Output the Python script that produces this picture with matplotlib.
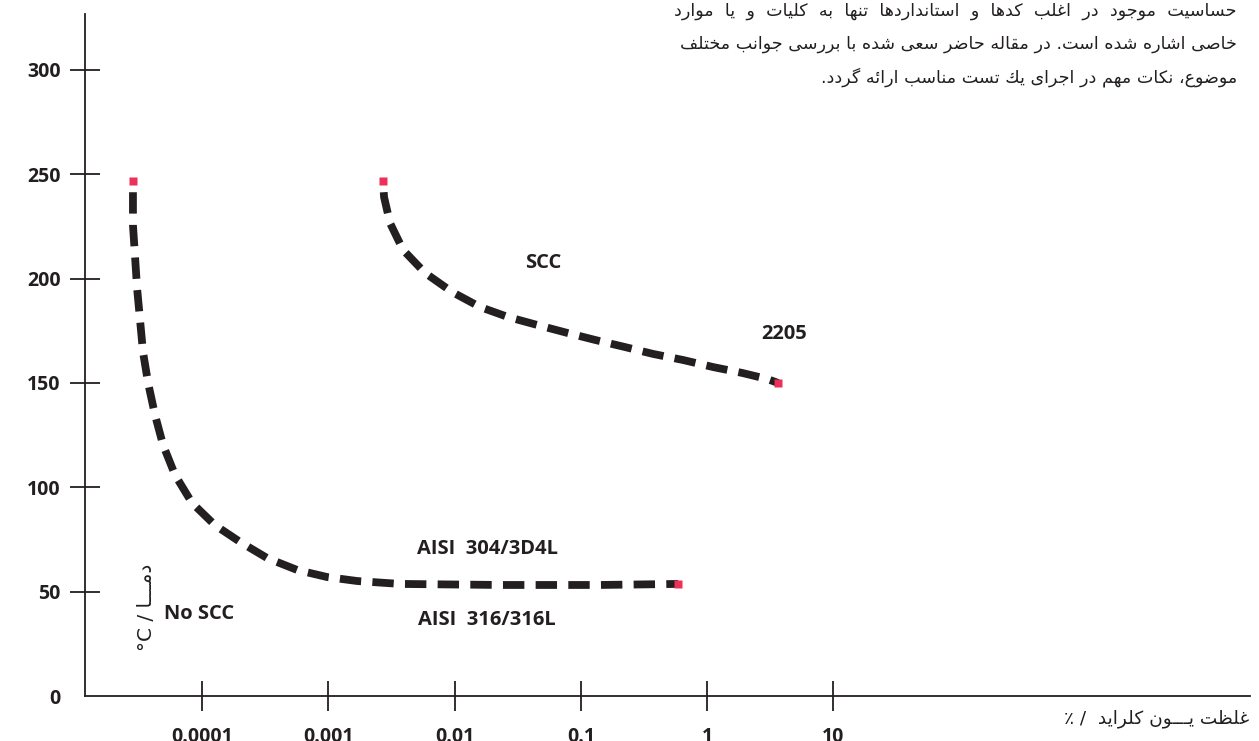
import matplotlib
matplotlib.use("Agg")
import matplotlib.pyplot as plt
from matplotlib.ticker import NullLocator

# chloride (%) vs temperature (C) limits for SCC
aisi_chloride = [2.83e-5, 2.83e-5, 2.83e-5, 2.94e-5, 3.05e-5, 3.22e-5, 3.40e-5, 3.73e-5,
                 4.23e-5, 4.90e-5, 6.10e-5, 8.32e-5, 1.26e-4, 2.00e-4, 3.27e-4, 5.65e-4,
                 9.77e-4, 1.69e-3, 3.70e-3, 0.0229, 0.142, 0.590]
aisi_temp = [246.8, 238.7, 225.7, 210.4, 195.5, 180.2, 164.8, 150.0,
             134.7, 120.3, 105.9, 92.5, 81.9, 73.8, 66.1, 60.4,
             57.0, 55.1, 53.7, 53.2, 53.2, 53.7]

duplex_chloride = [2.71e-3, 2.76e-3, 3.08e-3, 3.91e-3, 5.84e-3, 9.55e-3, 0.0159, 0.0265,
                   0.0451, 0.0779, 0.130, 0.224, 0.374, 0.646, 1.12, 1.90, 2.99, 3.66]
duplex_temp = [246.8, 239.1, 226.6, 213.7, 202.7, 193.6, 186.4, 181.6,
               177.8, 174.0, 170.6, 167.2, 163.9, 161.0, 157.6, 154.8, 151.9, 150.0]

x_ticks = [1e-4, 1e-3, 1e-2, 0.1, 1, 10]
x_tick_labels = ['0.0001', '0.001', '0.01', '0.1', '1', '10']
y_ticks = [0, 50, 100, 150, 200, 250, 300]

paragraph = [
    "حساسیت موجود در اغلب کدها و استانداردها تنها به کلیات و یا موارد",
    "خاصی اشاره شده است. در مقاله حاضر سعی شده با بررسی جوانب مختلف",
    "موضوع، نکات مهم در اجرای يك تست مناسب ارائه گردد.",
]
x_title = "غلظت يـــون كلرايد"
y_title = "دمـــا"

INK = '#231f20'
RED = '#ec3058'

# matplotlib has no arabic shaping, so pick the presentation forms by hand
# (isolated, final, initial, medial)
FORMS = {
    'ا': ('\uFE8D', '\uFE8E', None, None),
    'د': ('\uFEA9', '\uFEAA', None, None),
    'ر': ('\uFEAD', '\uFEAE', None, None),
    'و': ('\uFEED', '\uFEEE', None, None),
    'ب': ('\uFE8F', '\uFE90', '\uFE91', '\uFE92'),
    'ت': ('\uFE95', '\uFE96', '\uFE97', '\uFE98'),
    'ج': ('\uFE9D', '\uFE9E', '\uFE9F', '\uFEA0'),
    'ح': ('\uFEA1', '\uFEA2', '\uFEA3', '\uFEA4'),
    'خ': ('\uFEA5', '\uFEA6', '\uFEA7', '\uFEA8'),
    'س': ('\uFEB1', '\uFEB2', '\uFEB3', '\uFEB4'),
    'ش': ('\uFEB5', '\uFEB6', '\uFEB7', '\uFEB8'),
    'ص': ('\uFEB9', '\uFEBA', '\uFEBB', '\uFEBC'),
    'ض': ('\uFEBD', '\uFEBE', '\uFEBF', '\uFEC0'),
    'ظ': ('\uFEC5', '\uFEC6', '\uFEC7', '\uFEC8'),
    'ع': ('\uFEC9', '\uFECA', '\uFECB', '\uFECC'),
    'غ': ('\uFECD', '\uFECE', '\uFECF', '\uFED0'),
    'ف': ('\uFED1', '\uFED2', '\uFED3', '\uFED4'),
    'ق': ('\uFED5', '\uFED6', '\uFED7', '\uFED8'),
    'ك': ('\uFED9', '\uFEDA', '\uFEDB', '\uFEDC'),
    'ک': ('\uFB8E', '\uFB8F', '\uFB90', '\uFB91'),
    'گ': ('\uFB92', '\uFB93', '\uFB94', '\uFB95'),
    'ل': ('\uFEDD', '\uFEDE', '\uFEDF', '\uFEE0'),
    'م': ('\uFEE1', '\uFEE2', '\uFEE3', '\uFEE4'),
    'ن': ('\uFEE5', '\uFEE6', '\uFEE7', '\uFEE8'),
    'ه': ('\uFEE9', '\uFEEA', '\uFEEB', '\uFEEC'),
    'ي': ('\uFEF1', '\uFEF2', '\uFEF3', '\uFEF4'),
    'ی': ('\uFBFC', '\uFBFD', '\uFBFE', '\uFBFF'),
    'ئ': ('\uFE89', '\uFE8A', '\uFE8B', '\uFE8C'),
}
TATWEEL = '\u0640'


def joins_left(c):
    return c == TATWEEL or (c in FORMS and FORMS[c][2] is not None)


def rtl(text):
    out = []
    for i, c in enumerate(text):
        if c not in FORMS:
            out.append(c)
            continue
        prev = text[i - 1] if i > 0 else ''
        nxt = text[i + 1] if i < len(text) - 1 else ''
        p = joins_left(prev)
        q = FORMS[c][2] is not None and (nxt in FORMS or nxt == TATWEEL)
        iso, fin, ini, med = FORMS[c]
        out.append(med if p and q else fin if p else ini if q else iso)
    return ''.join(out)[::-1]


W, H = 1259, 741
fig = plt.figure(figsize=(W / 100, H / 100), dpi=100)
ax = fig.add_axes([85 / W, 45 / H, 1165 / W, 682 / H])

dash = (2.75, (2.75, 1.45))   # start on a gap so the red end cap stands apart
for xs, ys in [(aisi_chloride, aisi_temp), (duplex_chloride, duplex_temp)]:
    ax.plot(xs, ys, color=INK, lw=5.6, ls=dash, dash_capstyle='butt', zorder=3)
    ax.plot([xs[0], xs[-1]], [ys[0], ys[-1]], ls='none', marker='s', ms=5.3,
            mfc=RED, mec='none', zorder=4)

ax.set_xscale('log')
ax.set_xlim(1.18e-5, 2.0e4)
ax.set_ylim(0, 326.8)
ax.xaxis.set_minor_locator(NullLocator())
ax.set_xticks(x_ticks)
ax.set_xticklabels(x_tick_labels)
ax.set_yticks(y_ticks)
ax.yaxis.get_major_ticks()[0].tick1line.set_visible(False)

for s in ['top', 'right']:
    ax.spines[s].set_visible(False)
for s in ['left', 'bottom']:
    ax.spines[s].set_linewidth(1.3)
    ax.spines[s].set_color(INK)

ax.tick_params(direction='inout', length=22, width=1.3, color=INK, labelcolor=INK)
ax.tick_params(axis='y', pad=6.5)
ax.tick_params(axis='x', pad=11)
for lab in ax.get_xticklabels() + ax.get_yticklabels():
    lab.set_fontfamily('Open Sans')
    lab.set_fontweight('bold')
    lab.set_fontsize(14)

note = dict(fontfamily='Open Sans', fontweight='bold', fontsize=14.5, color=INK,
            ha='center', va='center')
ax.text(0.05, 207.5, 'SCC', **note)
ax.text(4.1, 173.5, '2205', **note)
ax.text(0.0183, 70.4, 'AISI  304/3D4L', **note)
ax.text(0.018, 36.4, 'AISI  316/316L', **note)
ax.text(9.5e-5, 39.3, 'No SCC', **note)

# axis titles: latin part on the left, persian run reversed after it
fig.text(147 / W, 1 - 607 / H, '°C / ' + rtl(y_title), rotation=90,
         fontfamily='DejaVu Sans', fontsize=14.5, color=INK, ha='center', va='center')
fig.text(1249 / W, 1 - 719 / H, '٪ /  ' + rtl(x_title),
         fontfamily='DejaVu Sans', fontsize=13.3, color=INK, ha='right', va='center')

# justified block: the first line gets wider word gaps
for i, line in enumerate(paragraph):
    if i == 0:
        line = '  '.join(line.split(' '))
    fig.text(1237 / W, 1 - (16 + 33 * i) / H, rtl(line), fontfamily='DejaVu Sans',
             fontsize=12.6, color=INK, ha='right', va='baseline')

fig.savefig('out.png', dpi=100)
